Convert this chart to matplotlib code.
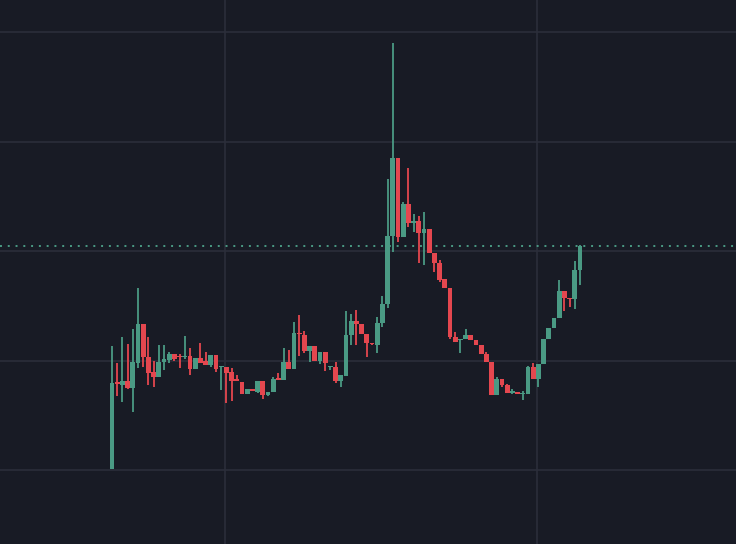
import matplotlib
matplotlib.use("Agg")
import matplotlib.pyplot as plt
import numpy as np

# candle levels (screen units, larger = lower price)
opens = [469, 382, 385, 381, 388, 363, 324, 357, 372, 377, 362, 360, 354, 356, 357, 356, 369, 358, 361, 365,
         355, 367, 367, 372, 379, 382, 394, 389, 392, 381, 395, 392, 379, 380, 362, 369, 333, 335, 351, 346,
         361, 352, 367, 367, 381, 376, 335, 321, 324, 334, 343, 345, 323, 304, 236, 158, 237, 204, 223, 221,
         233, 229, 253, 263, 279, 288, 337, 340, 339, 335, 340, 345, 354, 362, 395, 379, 385, 393, 392, 394,
         394, 367, 379, 364, 339, 328, 318, 291, 298, 299, 270]
closes = [383, 384, 381, 388, 362, 324, 357, 373, 377, 362, 359, 354, 359, 357, 356, 369, 358, 363, 365, 355,
          369, 366, 373, 381, 381, 394, 389, 391, 381, 395, 392, 379, 379.5, 362, 369, 333, 334, 351, 346, 361,
          352, 363, 366, 381, 375, 335, 321, 324, 334, 343, 344, 323, 304, 236, 158, 237, 204, 223, 221, 233,
          229, 253, 263, 280, 288, 337, 342, 339, 335, 340, 345, 354, 362, 395, 379, 385, 393, 391, 394, 393,
          367, 379, 364, 339, 328, 318, 291, 298, 299, 270, 246]
highs = [346, 363, 337, 344, 329, 288, 324, 337, 361, 345, 345, 352, 354, 354, 336, 348, 358, 343, 352, 355,
         355, 366, 367, 368, 375, 382, 389, 389, 381, 381, 392, 377, 373, 348, 350, 322, 315, 331, 346, 346,
         352, 352, 366, 362, 375, 311, 314, 310, 324, 336, 343, 317, 296, 179, 43, 158, 202, 168, 214, 216,
         212, 229, 253, 260, 279, 288, 332, 339, 329, 335, 340, 345, 352, 362, 377, 379, 384, 389, 392, 391,
         366, 363, 364, 339, 328, 318, 280, 291, 298, 261, 245]
lows = [469, 396, 402, 389, 412, 368, 367, 385, 387, 377, 370, 363, 361, 368, 359, 375, 369, 363, 365, 367,
        372, 390, 403, 401, 381, 394, 394, 391, 393, 399, 396, 392, 380, 380, 369, 369, 356, 353, 362, 361,
        364, 371, 370, 383, 387, 376, 345, 345, 334, 357, 345, 353, 327, 308, 252, 242, 237, 227, 232, 263,
        265, 253, 272, 282, 288, 339, 342, 353, 339, 340, 345, 354, 362, 395, 395, 387, 393, 394, 394, 400,
        394, 379, 387, 364, 339, 328, 318, 311, 307, 309, 285]

SCREEN_H = 544
to_price = lambda v: SCREEN_H - np.asarray(v, dtype=float)
o, c, h, l = (to_price(v) for v in (opens, closes, highs, lows))
last_close = c[-1]
grid_levels = to_price([470, 361, 251, 142, 32])

BG = "#181b25"
UP = "#4a9a84"
DOWN = "#e4474f"
GRID = "#2b2e3a"

fig = plt.figure(figsize=(7.36, 5.44), dpi=100, facecolor=BG)
ax = fig.add_axes([0, 0, 1, 1])
ax.set_facecolor(BG)

x = np.arange(len(o))
up = c >= o
colors = np.where(up, UP, DOWN)
ax.vlines(x, l, h, colors=colors, linewidth=1.3, zorder=3)
bottom = np.minimum(o, c)
height = np.maximum(np.abs(c - o), 1.5)
ax.bar(x, height, bottom=bottom, width=0.95, color=colors, linewidth=0, zorder=3)

ax.axhline(last_close, color=UP, linestyle=(0, (1, 3)), linewidth=1.4, zorder=2)

spacing = 5.2
ax.set_xlim(-112 / spacing, (736 - 112) / spacing)
ax.set_ylim(0, SCREEN_H)
for gy in grid_levels:
    ax.axhline(gy, color=GRID, linewidth=1.2, zorder=1)
for gx in [(225 - 112) / spacing, (537 - 112) / spacing]:
    ax.axvline(gx, color=GRID, linewidth=1.2, zorder=1)

ax.set_xticks([])
ax.set_yticks([])
for s in ax.spines.values():
    s.set_visible(False)

fig.savefig("out.png", dpi=100, facecolor=BG)
